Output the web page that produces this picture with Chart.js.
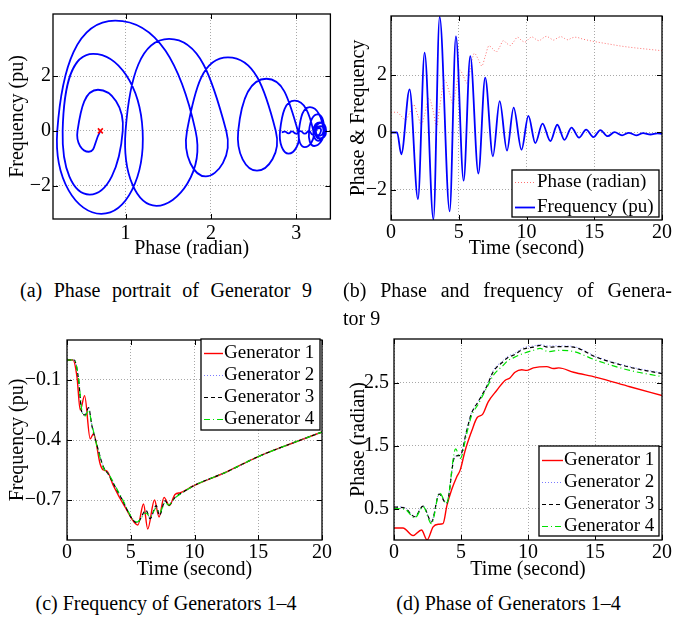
<!DOCTYPE html>
<html>
<head>
<meta charset="utf-8">
<script src="https://cdn.jsdelivr.net/npm/chart.js@4.4.0/dist/chart.umd.min.js"></script>
<style>
  body { margin: 0; background: #fff; font-family: "Liberation Serif", "Times New Roman", serif; }
  #page { position: relative; width: 673px; height: 618px; overflow: hidden; background: #fff; }
  canvas { position: absolute; }
  .cap { position: absolute; font-size: 20px; line-height: 28px; color: #000; white-space: nowrap; }
  .just { text-align: justify; text-align-last: justify; }
</style>
</head>
<body>
<div id="page">
  <canvas id="chartA" width="336" height="262" style="left:0;top:0"></canvas>
  <canvas id="chartB" width="337" height="262" style="left:336px;top:0"></canvas>
  <canvas id="chartC" width="336" height="262" style="left:0;top:322px"></canvas>
  <canvas id="chartD" width="337" height="262" style="left:336px;top:322px"></canvas>

  <div class="cap just" style="left:20px;top:276px;width:292px">(a) Phase portrait of Generator 9</div>
  <div class="cap" style="left:343px;top:276px;width:329px">
    <div class="just">(b) Phase and frequency of Genera-</div>
    <div>tor 9</div>
  </div>
  <div class="cap" style="left:0;top:589px;width:332px;text-align:center">(c) Frequency of Generators 1&ndash;4</div>
  <div class="cap" style="left:340px;top:589px;width:337px;text-align:center">(d) Phase of Generators 1&ndash;4</div>
</div>

<script>
// ---- data (a): fase-portret generator 9 (fase, frequentie), in volgorde van de tijd
var portraitPhase = [0.705, 0.57, 0.437, 0.677, 0.967, 0.58, 0.263, 0.62, 1.2, 0.716, 0.2, 0.879, 1.82, 1.363, 1.0, 1.51,
  2.18, 1.94, 1.72, 2.2, 2.76, 2.54, 2.32, 2.65, 3.02, 2.91, 2.81, 2.98, 3.2, 3.1, 3.03, 3.16, 3.32, 3.21, 3.15, 3.25,
  3.33, 3.26, 3.2, 3.28, 3.35, 3.28, 3.22, 3.29, 3.34, 3.28, 3.23, 3.29, 3.32, 3.27, 3.23, 3.27, 3.29, 3.25, 3.22,
  3.24, 3.19, 3.15, 3.1, 3.05, 3.0, 2.95, 2.91, 2.87, 2.83];
var portraitFreq = [0, -0.76, 0, 1.5, 0, -2.32, 0, 2.81, 0, -3.02, 0, 4.02, 0, -2.73, 0, 3.35,
  0, -1.66, 0, 2.68, 0, -1.45, 0, 1.9, 0, -0.83, 0, 1.1, 0, -0.59, 0, 0.87, 0, -0.55, 0, 0.6,
  0, -0.36, 0, 0.31, 0, -0.3, 0, 0.29, 0, -0.27, 0, 0.17, 0, -0.18, 0, 0.1, 0, -0.16, -0.02,
  0.06, -0.13, 0.0, -0.1, -0.01, -0.1, -0.02, -0.09, -0.03, -0.05];
var startPhase = [0.705];
var startFreq = [0];

// ---- data (b): fase en frequentie van generator 9 tegen de tijd
var timeFreq9 = [0, 0.45, 0.76, 1.37, 1.99, 2.48, 3.13, 3.59, 4.33, 4.79, 5.36, 5.85, 6.45, 6.95, 7.52, 8.02, 8.56,
  9.05, 9.63, 10.14, 10.65, 11.18, 11.76, 12.27, 12.8, 13.32, 13.88, 14.4, 14.93, 15.45, 15.99, 16.5, 17.05, 17.55,
  18.1, 18.6, 19.15, 19.65, 20];
var freq9 = [0, 0, -0.76, 1.5, -2.32, 2.78, -3.03, 4.03, -2.75, 3.35, -1.68, 2.66, -1.43, 1.91, -0.83, 1.09, -0.63,
  0.87, -0.6, 0.58, -0.37, 0.31, -0.3, 0.27, -0.26, 0.17, -0.18, 0.1, -0.16, 0.08, -0.13, 0.01, -0.1, -0.01,
  -0.1, -0.02, -0.07, -0.03, -0.05];
var timePhase9 = [0, 0.45, 0.76, 1.07, 1.37, 1.68, 1.99, 2.23, 2.48, 2.8, 3.13, 3.36, 3.59, 3.96, 4.33, 4.56, 4.79,
  5.08, 5.36, 5.6, 5.85, 6.15, 6.45, 6.7, 6.95, 7.23, 7.52, 7.77, 8.02, 8.29, 8.56, 8.8, 9.05, 9.34, 9.63, 9.89,
  10.14, 10.4, 10.65, 10.92, 11.18, 11.47, 11.76, 12.0, 12.27, 12.54, 12.8, 13.05, 13.32, 13.6, 14.2, 15, 16, 17,
  18, 19, 20];
var phase9 = [0.705, 0.705, 0.57, 0.437, 0.677, 0.967, 0.58, 0.263, 0.62, 1.2, 0.716, 0.2, 0.879, 1.82, 1.363, 1.0,
  1.51, 2.18, 1.94, 1.72, 2.2, 2.76, 2.54, 2.32, 2.65, 3.02, 2.91, 2.81, 2.98, 3.2, 3.1, 3.03, 3.16, 3.32, 3.21,
  3.15, 3.25, 3.33, 3.26, 3.2, 3.28, 3.35, 3.28, 3.22, 3.29, 3.34, 3.28, 3.23, 3.29, 3.32, 3.25, 3.17, 3.09, 3.01,
  2.95, 2.9, 2.85];

// ---- data (c): frequentie van generator 1-4
var g1FreqT = [0, 0.47, 0.78, 1.04, 1.38, 1.82, 2.08, 2.6, 2.85, 3.13, 3.65, 4.56, 5.56, 6.0, 6.33, 6.86, 7.22, 7.61,
  8.03, 8.47, 8.9, 9.9, 12.5, 15, 17.5, 20];
var g1Freq = [0, 0, -0.083, -0.25, -0.178, -0.394, -0.369, -0.52, -0.55, -0.555, -0.63, -0.736, -0.825, -0.72, -0.845,
  -0.70, -0.785, -0.687, -0.728, -0.672, -0.663, -0.63, -0.56, -0.483, -0.42, -0.36];
var gFreqT = [0, 0.57, 0.91, 1.17, 1.43, 1.69, 1.95, 2.35, 2.86, 3.26, 4.17, 5.5, 6.2, 6.52, 7.0, 7.25, 7.7, 7.95,
  8.5, 9.0, 9.9, 12.5, 15, 17.5, 20];
var g2Freq = [0, 0, -0.1, -0.26, -0.272, -0.24, -0.325, -0.425, -0.532, -0.57, -0.678, -0.812, -0.755, -0.79, -0.73,
  -0.774, -0.705, -0.726, -0.686, -0.665, -0.63, -0.56, -0.483, -0.42, -0.36];
var g3Freq = [0, 0, -0.1, -0.263, -0.275, -0.238, -0.328, -0.426, -0.535, -0.573, -0.68, -0.814, -0.752, -0.793,
  -0.728, -0.777, -0.703, -0.728, -0.685, -0.665, -0.63, -0.56, -0.483, -0.42, -0.36];
var g4Freq = [0, 0, -0.095, -0.255, -0.28, -0.25, -0.322, -0.43, -0.54, -0.57, -0.675, -0.81, -0.765, -0.785, -0.74,
  -0.765, -0.712, -0.725, -0.688, -0.666, -0.63, -0.56, -0.483, -0.42, -0.36];

// ---- data (d): fase van generator 1-4
var g1PhaseT = [0, 0.67, 1.42, 2.05, 2.47, 2.92, 3.3, 3.66, 3.95, 4.3, 4.67, 4.95, 5.29, 5.79, 6.21, 6.61, 7.03, 7.66,
  8.28, 8.65, 9.03, 9.53, 9.9, 10.4, 11.4, 11.9, 12.3, 13.4, 15.1, 17.6, 20];
var g1Phase = [0.19, 0.19, 0.07, 0.16, 0.0, 0.21, 0.25, 0.26, 0.55, 0.8, 1.0, 1.12, 1.41, 1.73, 1.95, 2.0, 2.2, 2.38,
  2.54, 2.58, 2.67, 2.71, 2.7, 2.74, 2.76, 2.73, 2.74, 2.67, 2.59, 2.44, 2.3];
var g3PhaseT = [0, 0.8, 1.55, 2.17, 2.8, 3.37, 3.92, 4.54, 4.96, 5.41, 5.79, 6.28, 6.91, 7.41, 8.15, 8.53, 8.9, 9.65,
  10.4, 10.9, 11.5, 12.4, 13.4, 15.1, 17.6, 20];
var g2Phase = [0.53, 0.515, 0.375, 0.545, 0.3, 0.735, 0.59, 1.33, 1.36, 1.74, 2.03, 2.21, 2.45, 2.7, 2.86, 2.93, 2.96,
  3.06, 3.09, 3.11, 3.09, 3.09, 3.08, 2.92, 2.76, 2.66];
var g3Phase = [0.525, 0.51, 0.37, 0.54, 0.29, 0.73, 0.58, 1.33, 1.35, 1.73, 2.02, 2.2, 2.44, 2.68, 2.84, 2.91, 2.94,
  3.04, 3.07, 3.1, 3.07, 3.08, 3.07, 2.91, 2.75, 2.65];
var g4PhaseT = [0, 0.8, 1.55, 2.17, 2.8, 3.4, 3.92, 4.6, 4.95, 5.41, 5.79, 6.28, 6.91, 7.41, 8.15, 8.53, 8.9, 9.65,
  10.4, 10.9, 11.5, 12.4, 13.4, 15.1, 17.6, 20];
var g4Phase = [0.5, 0.49, 0.35, 0.53, 0.26, 0.75, 0.58, 1.45, 1.3, 1.68, 1.98, 2.16, 2.42, 2.62, 2.78, 2.86, 2.9,
  2.97, 3.02, 3.05, 3.0, 3.02, 3.0, 2.86, 2.7, 2.6];

// ---- tick labels
var aXTicks = [1, 2, 3];
var aYTicks = [-2, 0, 2];
var timeTicks = [0, 5, 10, 15, 20];
var bYTicks = [-2, 0, 2];
var cYTicks = [-0.7, -0.4, -0.1];
var dYTicks = [0.5, 1.5, 2.5];
var genLabels = ['Generator 1', 'Generator 2', 'Generator 3', 'Generator 4'];

Chart.defaults.font.family = '"Liberation Serif", "Times New Roman", serif';
Chart.defaults.color = '#000';

function punten(xs, ys) {
  // maak {x, y} paren van twee arrays
  return xs.map(function (x, i) { return { x: x, y: ys[i] }; });
}

function tekst(v) {
  return String(v).replace('-', '\u2212'); // echte minteken
}

function maakSchaal(min, max, tickWaarden, titel, maat, titelPad, tickPad, isX) {
  return {
    type: 'linear',
    min: min,
    max: max,
    afterBuildTicks: function (s) { s.ticks = tickWaarden.map(function (v) { return { value: v }; }); },
    afterFit: function (s) { if (isX) { s.height = maat; } else { s.width = maat; } },
    grid: { color: '#a8a8a8', lineWidth: 1, drawTicks: false },
    border: { display: false, dash: [1, 2] },
    ticks: { padding: tickPad, color: '#000', font: { size: 20 }, maxRotation: 0, autoSkip: false, callback: tekst },
    title: {
      display: true, text: titel, color: '#000', font: { size: 20 },
      padding: isX ? { top: 0, bottom: titelPad } : { top: titelPad, bottom: 0 }
    }
  };
}

// kader met tickstreepjes naar binnen (zoals matlab)
var kaderPlugin = {
  id: 'kader',
  afterDatasetsDraw: function (chart) {
    var ctx = chart.ctx, a = chart.chartArea;
    var xs = chart.scales.x, ys = chart.scales.y;
    ctx.save();
    ctx.strokeStyle = '#000';
    ctx.lineWidth = 1;
    ctx.beginPath();
    xs.ticks.forEach(function (t) {
      var px = Math.round(xs.getPixelForValue(t.value)) + 0.5;
      ctx.moveTo(px, a.bottom); ctx.lineTo(px, a.bottom - 5);
      ctx.moveTo(px, a.top); ctx.lineTo(px, a.top + 5);
    });
    ys.ticks.forEach(function (t) {
      var py = Math.round(ys.getPixelForValue(t.value)) + 0.5;
      ctx.moveTo(a.left, py); ctx.lineTo(a.left + 5, py);
      ctx.moveTo(a.right, py); ctx.lineTo(a.right - 5, py);
    });
    ctx.stroke();
    ctx.lineWidth = 1.3;
    ctx.strokeRect(a.left, a.top, a.right - a.left, a.bottom - a.top);
    ctx.restore();
  }
};

// legenda in een kader binnen de grafiek
var legendaPlugin = {
  id: 'boxLegend',
  afterDraw: function (chart, args, opts) {
    if (!opts.box) return;
    var ctx = chart.ctx, b = opts.box;
    ctx.save();
    ctx.fillStyle = '#fff';
    ctx.fillRect(b.x, b.y, b.w, b.h);
    ctx.strokeStyle = '#000';
    ctx.lineWidth = 1.3;
    ctx.strokeRect(b.x, b.y, b.w, b.h);
    ctx.font = '19px "Liberation Serif"';
    ctx.textBaseline = 'middle';
    var items = chart.data.datasets.filter(function (d) { return d.label; });
    items.forEach(function (d, i) {
      var y = Math.round(b.y + opts.firstRow + i * opts.rowStep) + 0.5;
      ctx.beginPath();
      ctx.setLineDash(d.borderDash || []);
      ctx.strokeStyle = d.borderColor;
      ctx.lineWidth = d.borderWidth;
      ctx.moveTo(b.x + opts.lineFrom, y);
      ctx.lineTo(b.x + opts.lineTo, y);
      ctx.stroke();
      ctx.setLineDash([]);
      ctx.fillStyle = '#000';
      ctx.fillText(d.label, b.x + opts.textAt, y);
    });
    ctx.restore();
  }
};

function maakGrafiek(id, datasets, schalen, padding, legenda) {
  return new Chart(document.getElementById(id), {
    type: 'scatter',
    data: { datasets: datasets },
    options: {
      responsive: false,
      animation: false,
      layout: { padding: padding },
      scales: schalen,
      plugins: { legend: { display: false }, tooltip: { enabled: false }, boxLegend: legenda || {} }
    },
    plugins: [kaderPlugin, legendaPlugin]
  });
}

function lijn(label, data, kleur, breedte, streep, volgorde, vloeiend) {
  var d = {
    label: label, data: data, showLine: true, borderColor: kleur, backgroundColor: kleur,
    borderWidth: breedte, borderDash: streep, pointRadius: 0, fill: false, order: volgorde
  };
  if (vloeiend) { d.cubicInterpolationMode = 'monotone'; }
  return d;
}

// (a) fase-portret
var spiraal = lijn('', punten(portraitPhase, portraitFreq), '#0000ff', 1.8, [], 2, false);
spiraal.tension = 0.58;
maakGrafiek('chartA', [
  spiraal,
  { data: punten(startPhase, startFreq), pointStyle: 'crossRot', pointRadius: 3.5, pointBorderWidth: 1.6,
    pointBorderColor: '#ff0000', borderColor: '#ff0000', showLine: false, order: 1 }
], {
  x: maakSchaal(0.15, 3.4, aXTicks, 'Phase (radian)', 43, 1, 3, true),
  y: maakSchaal(-3.21, 4.26, aYTicks, 'Frequency (pu)', 53, 6, 2, false)
}, { top: 8, right: 4, left: 0, bottom: 0 });

// (b) fase en frequentie tegen de tijd
maakGrafiek('chartB', [
  lijn('Phase (radian)', punten(timePhase9, phase9), '#ff6f6f', 1, [1, 2], 2, true),
  lijn('Frequency (pu)', punten(timeFreq9, freq9), '#0000ff', 1.8, [], 1, true)
], {
  x: maakSchaal(0, 20, timeTicks, 'Time (second)', 42, 1, 1, true),
  y: maakSchaal(-3.05, 4.06, bYTicks, 'Phase & Frequency', 55, 11, 4, false)
}, { top: 16, right: 11, left: 0, bottom: 0 },
{ box: { x: 176, y: 170, w: 147, h: 47 }, firstRow: 12, rowStep: 25, lineFrom: 3, lineTo: 23, textAt: 25 });

// (c) frequentie generator 1-4
maakGrafiek('chartC', [
  lijn(genLabels[0], punten(g1FreqT, g1Freq), '#ff0000', 1.4, [], 4, true),
  lijn(genLabels[1], punten(gFreqT, g2Freq), '#7a7aff', 1, [1, 2], 3, true),
  lijn(genLabels[2], punten(gFreqT, g3Freq), '#000000', 1.2, [4, 3], 2, true),
  lijn(genLabels[3], punten(gFreqT, g4Freq), '#00e000', 1.2, [6, 3, 1, 3], 1, true)
], {
  x: maakSchaal(0, 20, timeTicks, 'Time (second)', 44, 2, 1, true),
  y: maakSchaal(-0.9, 0.1, cYTicks, 'Frequency (pu)', 67, 6, 6, false)
}, { top: 14, right: 14, left: 0, bottom: 0 },
{ box: { x: 201, y: 17, w: 119, h: 91 }, firstRow: 14, rowStep: 22, lineFrom: 3, lineTo: 22, textAt: 23 });

// (d) fase generator 1-4
maakGrafiek('chartD', [
  lijn(genLabels[0], punten(g1PhaseT, g1Phase), '#ff0000', 1.4, [], 4, true),
  lijn(genLabels[1], punten(g3PhaseT, g2Phase), '#7a7aff', 1, [1, 2], 3, true),
  lijn(genLabels[2], punten(g3PhaseT, g3Phase), '#000000', 1.2, [4, 3], 2, true),
  lijn(genLabels[3], punten(g4PhaseT, g4Phase), '#00e000', 1.2, [6, 3, 1, 3], 1, true)
], {
  x: maakSchaal(0, 20, timeTicks, 'Time (second)', 44, 2, 1, true),
  y: maakSchaal(0, 3.2, dYTicks, 'Phase (radian)', 58, 11, 5, false)
}, { top: 14, right: 11, left: 0, bottom: 0 },
{ box: { x: 203, y: 124, w: 120, h: 90 }, firstRow: 14, rowStep: 22, lineFrom: 3, lineTo: 24, textAt: 25 });
</script>
</body>
</html>
